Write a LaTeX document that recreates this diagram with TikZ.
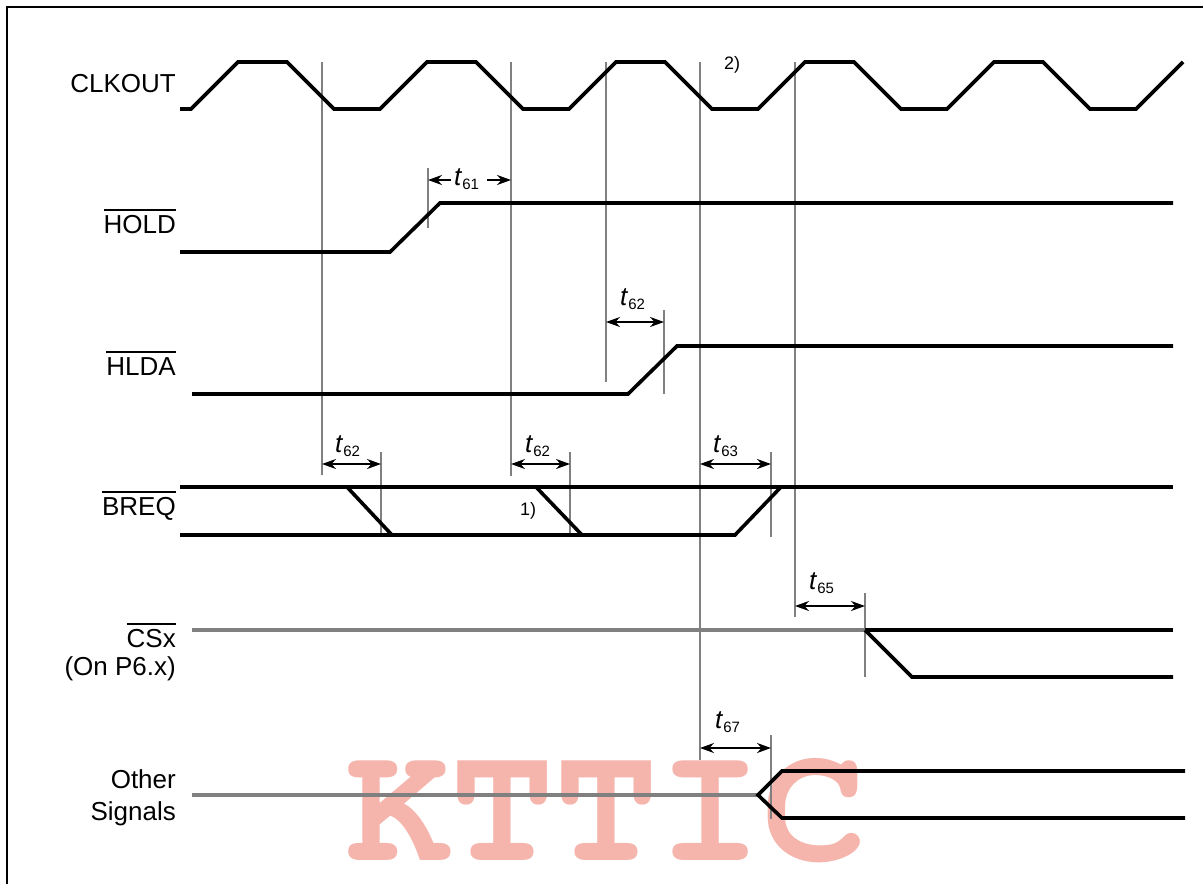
\documentclass[tikz,border=0pt]{standalone}
\usepackage{fontspec}
\setmainfont{Liberation Sans}
\newfontfamily\wmfont{texgyrecursor-bold.otf}
\usetikzlibrary{arrows.meta}
\definecolor{vgrey}{RGB}{128,128,128}
\definecolor{wmpink}{RGB}{245,180,172}
\newcommand{\ovl}[1]{\vbox{\hrule height 2pt\kern 4pt\hbox{#1}}}
\newcommand{\tlab}[1]{\textit{t}\raisebox{-4pt}{\fontsize{15}{15}\selectfont #1}}
\tikzset{
  sig/.style={line width=3.6pt, black},
  gsig/.style={line width=3.6pt, vgrey},
  vline/.style={line width=2.7pt, vgrey},
  dimarrow/.style={line width=2pt, {Stealth[length=14pt,width=10pt]}-{Stealth[length=14pt,width=10pt]}},
  halfarrow/.style={line width=2pt, -{Stealth[length=14pt,width=10pt]}},
  lab/.style={anchor=base east, inner sep=0pt, font=\fontsize{26}{30}\selectfont},
  tlabel/.style={anchor=base west, inner sep=0pt, font=\fontsize{26}{30}\selectfont},
  note/.style={anchor=base west, inner sep=0pt, font=\fontsize{18}{20}\selectfont},
}
\begin{document}
\begin{tikzpicture}[x=1pt, y=-1pt]
\useasboundingbox (0,0) rectangle (1203,884);
\fill[white] (0,0) rectangle (1203,884);

% watermark (behind the lines)
\node[anchor=base west, inner sep=0pt, text=wmpink,
  font=\wmfont\fontsize{171}{171}\selectfont] (wm) at (346,860) {\scalebox{1.015}[1]{KTTIC}};

% frame
\draw[line width=2pt] (7,884) -- (7,7) -- (1203,7);

% vertical reference lines
\draw[vline] (322,62) -- (322,475);
\draw[vline] (511,62) -- (511,476);
\draw[vline] (606,62) -- (606,382);
\draw[vline] (700,62) -- (700,760);
\draw[vline] (795,62) -- (795,617);
% short markers
\draw[vline] (428,168) -- (428,228);
\draw[vline] (664,310) -- (664,394);
\draw[vline] (381,452) -- (381,537);
\draw[vline] (570,452) -- (570,537);
\draw[vline] (771,452) -- (771,537);
\draw[vline] (865,593) -- (865,677);
\draw[vline] (771,735) -- (771,819);

% labels
\node[lab] (clk) at (176,92) {CLKOUT};
\node[lab] (hold) at (176,233) {\ovl{HOLD}};
\node[lab] (hlda) at (176,375) {\ovl{HLDA}};
\node[lab] (breq) at (176,515) {\ovl{BREQ}};
\node[lab] (csx) at (176,647) {\ovl{CSx}};
\node[lab] (onp) at (176,675) {(On P6.x)};
\node[lab] (oth) at (176,788) {Other};
\node[lab] (sgn) at (176,820) {Signals};

% CLKOUT
\draw[sig] (180,109) -- (191,109) -- (238,62) -- (287,62) -- (334,109) -- (380,109)
  -- (427,62) -- (476,62) -- (523,109) -- (569,109) -- (616,62) -- (665,62) -- (712,109)
  -- (758,109) -- (805,62) -- (854,62) -- (901,109) -- (947,109) -- (994,62) -- (1043,62)
  -- (1090,109) -- (1136,109) -- (1183,62);
% HOLD
\draw[sig] (180,252) -- (390,252) -- (440,203) -- (1173,203);
% HLDA
\draw[sig] (192,394) -- (628,394) -- (677,346) -- (1173,346);
% BREQ
\draw[sig] (180,487) -- (1173,487);
\draw[sig] (180,535) -- (735,535) -- (781,487);
\draw[sig] (347,487) -- (392,535);
\draw[sig] (536,487) -- (582,535);
% CSx
\draw[gsig] (192,630) -- (865,630);
\draw[sig] (865,630) -- (1173,630);
\draw[sig] (865,630) -- (912,677) -- (1173,677);
% Other signals
\draw[gsig] (192,795) -- (758,795);
\draw[sig] (1185,771) -- (782,771) -- (758,795) -- (782,818) -- (1185,818);

% timing arrows
\draw[halfarrow] (451,180) -- (428,180);
\draw[halfarrow] (487,180) -- (511,180);
\node[tlabel] (t61) at (454,185) {\tlab{61}};
\draw[dimarrow] (606,322) -- (664,322);
\node[tlabel] (t62a) at (620,305) {\tlab{62}};
\draw[dimarrow] (322,464) -- (381,464);
\node[tlabel] (t62b) at (335,452) {\tlab{62}};
\draw[dimarrow] (511,464) -- (570,464);
\node[tlabel] (t62c) at (525,452) {\tlab{62}};
\draw[dimarrow] (700,464) -- (771,464);
\node[tlabel] (t63) at (713,452) {\tlab{63}};
\draw[dimarrow] (795,606) -- (865,606);
\node[tlabel] (t65) at (809,589) {\tlab{65}};
\draw[dimarrow] (700,748) -- (771,748);
\node[tlabel] (t67) at (715,728) {\tlab{67}};

% notes
\node[note] (n1) at (520,515) {1)};
\node[note] (n2) at (724,69) {2)};
\end{tikzpicture}
\end{document}
